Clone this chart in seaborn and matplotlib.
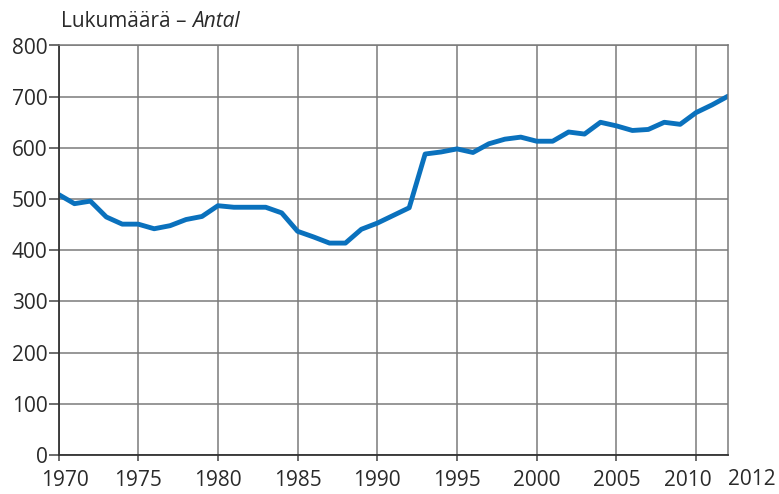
import matplotlib
matplotlib.use("Agg")
import matplotlib.pyplot as plt
import matplotlib.transforms as mtransforms
import seaborn as sns
import pandas as pd

years = list(range(1970, 2013))
counts = [509, 491, 496, 465, 451, 451, 442, 448, 460, 466,
          487, 484, 484, 484, 473, 437, 426, 414, 414, 441,
          453, 468, 483, 588, 592, 598, 591, 608, 617, 621,
          613, 613, 631, 627, 650, 643, 634, 636, 650, 646,
          669, 684, 701]
x_ticks = list(range(1970, 2011, 5))
y_ticks = list(range(0, 801, 100))

df = pd.DataFrame({"year": years, "count": counts})

sns.set_style("white")
plt.rcParams['font.family'] = ['Open Sans', 'DejaVu Sans']

fig = plt.figure(figsize=(7.79, 4.94), dpi=100)
left, right, bottom, top = 58.5, 728, 455, 45.5
ax = fig.add_axes([left / 779, 1 - bottom / 494, (right - left) / 779, (bottom - top) / 494])

sns.lineplot(data=df, x="year", y="count", ax=ax, color="#0a71bd", linewidth=3.5)

ax.set_xlim(1970, 2012)
ax.set_ylim(0, 800)
ax.set_xticks(x_ticks)
ax.set_yticks(y_ticks)
ax.grid(True, color="#7a7a7a", linewidth=1.1)
ax.set_axisbelow(True)
ax.set_xlabel("")
ax.set_ylabel("")
ax.tick_params(axis="both", direction="out", width=1.1, color="#444444",
               labelsize=15, labelcolor="#2a2a2a")
ax.tick_params(axis="x", bottom=True, length=4.5, pad=6)
ax.tick_params(axis="y", left=True, length=7, pad=1)

for side in ["top", "right"]:
    ax.spines[side].set_color("#7a7a7a")
    ax.spines[side].set_linewidth(1.1)
for side in ["bottom", "left"]:
    ax.spines[side].set_color("#333333")
    ax.spines[side].set_linewidth(1.3)

# nudge the end labels apart the way the reference does
fig.canvas.draw()
xlabels = ax.get_xticklabels()
xlabels[0].set_transform(xlabels[0].get_transform() +
                         mtransforms.ScaledTranslation(6 / 100, 0, fig.dpi_scale_trans))
xlabels[-1].set_transform(xlabels[-1].get_transform() +
                          mtransforms.ScaledTranslation(-8 / 100, 0, fig.dpi_scale_trans))

# extra end label to the right of the frame
ax.annotate("2012", xy=(2012, 0), xycoords="data", xytext=(17, -10.3),
            textcoords="offset points", ha="center", va="top",
            fontsize=15, color="#2a2a2a", annotation_clip=False)

t1 = fig.text(61 / 779, 1 - 27 / 494, "Lukumäärä – ", fontsize=15, color="#2a2a2a",
              ha="left", va="baseline")
ax.annotate("Antal", xy=(1, 0), xycoords=t1, va="bottom", ha="left",
            fontsize=15, style="italic", color="#2a2a2a")

fig.savefig("out.png", dpi=100)
